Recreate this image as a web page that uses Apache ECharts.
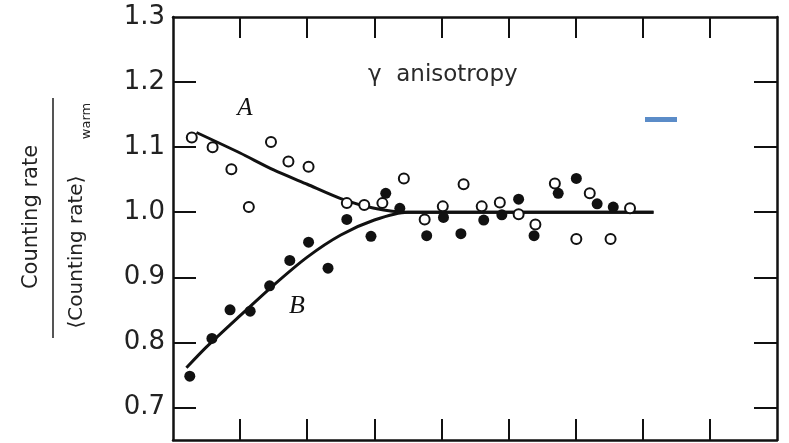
<!DOCTYPE html>
<html>
<head>
<meta charset="utf-8">
<script src="https://cdn.jsdelivr.net/npm/echarts@6/dist/echarts.min.js"></script>
<style>
  html, body { margin: 0; padding: 0; background: #fff; }
  #main { width: 789px; height: 443px; }
</style>
</head>
<body>
<div id="main"></div>
<script>
// x in tick units (0..9)
var openPts = [ //curve A, open circles
    [0.28, 1.115], [0.59, 1.100], [0.87, 1.066], [1.13, 1.008], [1.46, 1.108],
    [1.72, 1.078], [2.02, 1.070], [2.59, 1.014], [2.85, 1.011], [3.12, 1.014],
    [3.44, 1.052], [3.75, 0.989], [4.02, 1.009], [4.33, 1.043], [4.60, 1.009],
    [4.87, 1.015], [5.15, 0.997], [5.40, 0.981], [5.69, 1.044], [6.01, 0.959],
    [6.21, 1.029], [6.52, 0.959], [6.81, 1.006]
];
var filledPts = [ //curve B, filled dots
    [0.25, 0.748], [0.58, 0.806], [0.85, 0.850], [1.15, 0.848], [1.44, 0.887],
    [1.74, 0.926], [2.02, 0.954], [2.31, 0.914], [2.59, 0.989], [2.95, 0.963],
    [3.17, 1.029], [3.38, 1.006], [3.78, 0.964], [4.03, 0.992], [4.29, 0.967],
    [4.63, 0.988], [4.90, 0.996], [5.15, 1.020], [5.38, 0.964], [5.74, 1.029],
    [6.01, 1.052], [6.32, 1.013], [6.56, 1.008]
];
// drawn fit curves, read at about half-tick steps
var curveA = [[0.35, 1.1225], [1.0, 1.091], [1.5, 1.065], [2.0, 1.043], [2.5, 1.021],
    [3.0, 1.006], [3.5, 1.0], [4.5, 1.0], [5.5, 1.0], [7.16, 1.0]];
var curveB = [[0.2, 0.761], [0.5, 0.793], [1.0, 0.841], [1.5, 0.888], [2.0, 0.931],
    [2.5, 0.965], [3.0, 0.988], [3.5, 1.0], [4.5, 1.0], [5.5, 1.0], [7.16, 1.0]];
var yTicks = [0.7, 0.8, 0.9, 1.0, 1.1, 1.2, 1.3];
var xTicks = [1, 2, 3, 4, 5, 6, 7, 8];

var ink = '#111';
var dom = document.getElementById('main');
var myChart = echarts.init(dom);

function xAx(pos) {
    return {
        type: 'value', position: pos, min: 0, max: 9,
        axisLine: { show: true, onZero: false, lineStyle: { color: ink, width: 2.5 } },
        axisTick: { show: true, inside: true, length: 21, customValues: xTicks, lineStyle: { color: ink, width: 2 } },
        axisLabel: { show: false },
        splitLine: { show: false }
    };
}
function yAx(pos, labels) {
    return {
        type: 'value', position: pos, min: 0.65, max: 1.3,
        axisLine: { show: true, onZero: false, lineStyle: { color: ink, width: 2.5 } },
        axisTick: { show: true, inside: true, length: 23, customValues: yTicks.slice(0, 6), lineStyle: { color: ink, width: 2 } },
        axisLabel: {
            show: labels, customValues: yTicks, margin: 8,
            formatter: function(v) { return v.toFixed(1); },
            fontFamily: 'DejaVu Sans', fontSize: 26, color: '#222'
        },
        splitLine: { show: false }
    };
}

var option = {
    backgroundColor: '#fff',
    animation: false,
    grid: { left: 173, right: 12, top: 17, bottom: 3 },
    xAxis: [xAx('bottom'), xAx('top')],
    yAxis: [yAx('left', true), yAx('right', false)],
    graphic: [
        { type: 'text', x: 32, y: 217, rotation: Math.PI / 2,
          style: { text: 'Counting rate', font: '21px "DejaVu Sans"', fill: '#222', align: 'center', verticalAlign: 'middle' } },
        { type: 'line', shape: { x1: 53, y1: 98, x2: 53, y2: 338 }, style: { stroke: '#555', lineWidth: 2 } },
        { type: 'text', x: 77, y: 252, rotation: Math.PI / 2,
          style: { text: '⟨Counting rate⟩', font: '20px "DejaVu Sans"', fill: '#222', align: 'center', verticalAlign: 'middle' } },
        { type: 'text', x: 87, y: 121, rotation: Math.PI / 2,
          style: { text: 'warm', font: '13px "DejaVu Sans"', fill: '#222', align: 'center', verticalAlign: 'middle' } },
        { type: 'text', x: 368, y: 75,
          style: { text: 'γ  anisotropy', font: '23px "DejaVu Sans"', fill: '#2a2a2a', align: 'left', verticalAlign: 'middle' } },
        { type: 'text', x: 245, y: 108,
          style: { text: 'A', font: 'italic 25px "Liberation Serif"', fill: ink, align: 'center', verticalAlign: 'middle' } },
        { type: 'text', x: 297, y: 306,
          style: { text: 'B', font: 'italic 26px "Liberation Serif"', fill: ink, align: 'center', verticalAlign: 'middle' } },
        { type: 'rect', shape: { x: 645, y: 117, width: 32, height: 5 }, style: { fill: '#5b8cc8' } }
    ],
    series: [{
            name: 'A fit', type: 'line', data: curveA, showSymbol: false,
            smooth: 0.25, z: 2,
            lineStyle: { color: ink, width: 3 }
        },
        {
            name: 'B fit', type: 'line', data: curveB, showSymbol: false,
            smooth: 0.25, z: 2,
            lineStyle: { color: ink, width: 3 }
        },
        {
            name: 'A', type: 'scatter', data: openPts, symbol: 'circle', symbolSize: 10, z: 3,
            itemStyle: { color: '#fff', borderColor: ink, borderWidth: 2, opacity: 1 }
        },
        {
            name: 'B', type: 'scatter', data: filledPts, symbol: 'circle', symbolSize: 11, z: 4,
            itemStyle: { color: ink, opacity: 1 }
        }
    ]
};
myChart.setOption(option, true);
</script>
</body>
</html>
